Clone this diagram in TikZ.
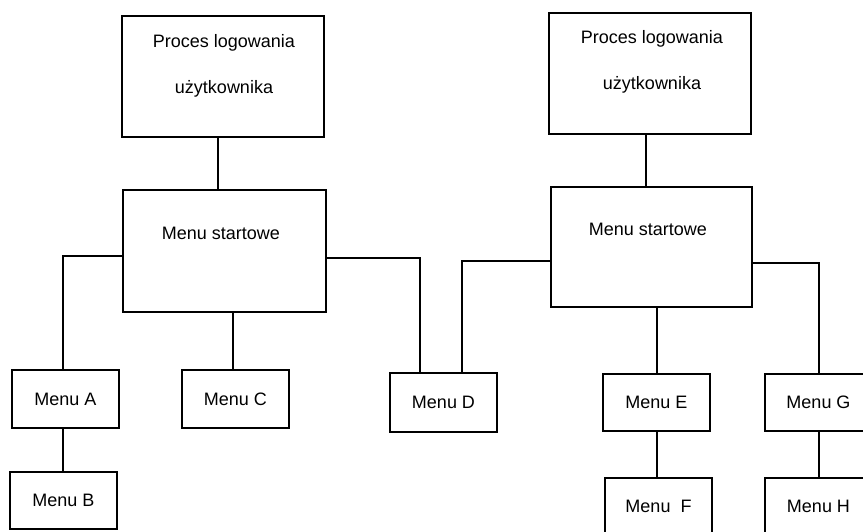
\documentclass[tikz,border=0pt]{standalone}
\usepackage{fontspec}
\setmainfont{Liberation Sans}
\usetikzlibrary{calc}

\begin{document}
\begin{tikzpicture}[x=1pt, y=-1pt,
    boite/.style={draw, line width=2pt, rectangle, inner sep=0pt, minimum width=107pt, minimum height=58pt, font=\fontsize{18}{21}\selectfont},
    grande/.style={boite, minimum width=202pt, minimum height=121pt},
    texte/.style={inner sep=0pt, align=center, font=\fontsize{18}{46}\selectfont},
    lien/.style={line width=2pt}]
    \clip (0,0) rectangle (863,532);

    % Arbre de gauche
    \node[grande] (logL) at (222.5,76.5) {};
    \node[texte] (logLt) at (224,66) {Proces logowania\\użytkownika};
    \node[grande, minimum width=203pt, minimum height=122pt] (startL) at (224.5,251) {};
    \node[texte] (startLt) at (221,233) {Menu startowe};
    \node[boite] (menuA) at (65.5,399) {Menu A};
    \node[boite, minimum height=57pt] (menuB) at (63.5,500.5) {Menu B};
    \node[boite] (menuC) at (235.5,399) {Menu C};
    \node[boite, minimum height=59pt] (menuD) at (443.5,402.5) {Menu D};

    % Arbre de droite
    \node[grande] (logR) at (650,73.5) {};
    \node[texte] (logRt) at (652,62) {Proces logowania\\użytkownika};
    \node[grande, minimum width=201pt, minimum height=120pt] (startR) at (651.5,247) {};
    \node[texte] (startRt) at (648,229) {Menu startowe};
    \node[boite, minimum height=57pt] (menuE) at (656.5,402.5) {Menu E};
    \node[boite, minimum height=57pt] (menuF) at (658.5,506.5) {Menu\ \ F};
    \node[boite, minimum height=57pt] (menuG) at (818.5,402.5) {Menu G};
    \node[boite, minimum height=57pt] (menuH) at (818.5,506.5) {Menu H};

    % Points de départ des liaisons
    \coordinate (pL) at ($(logL.south)+(-4.5,0)$);
    \coordinate (pA) at ($(menuA.south)+(-2.5,0)$);
    \coordinate (pC) at ($(startL.south)+(8.5,0)$);
    \coordinate (pR) at ($(logR.south)+(-4,0)$);
    \coordinate (pE) at ($(startR.south)+(5.5,0)$);
    \coordinate (pF) at ($(menuE.south)+(0.5,0)$);

    % Liaisons de gauche
    \draw[lien] (pL) -- (pL |- startL.north);
    \draw[lien] ($(startL.west)+(0,5)$) -| ($(menuA.north)+(-2.5,0)$);
    \draw[lien] (pA) -- (pA |- menuB.north);
    \draw[lien] (pC) -- (pC |- menuC.north);
    \draw[lien] ($(startL.east)+(0,7)$) -| ($(menuD.north)+(-23.5,0)$);

    % Liaisons de droite
    \draw[lien] ($(menuD.north)+(18.5,0)$) |- ($(startR.west)+(0,14)$);
    \draw[lien] (pR) -- (pR |- startR.north);
    \draw[lien] (pE) -- (pE |- menuE.north);
    \draw[lien] (pF) -- (pF |- menuF.north);
    \draw[lien] ($(startR.east)+(0,16)$) -| (menuG.north);
    \draw[lien] (menuG.south) -- (menuH.north);

\end{tikzpicture}
\end{document}
